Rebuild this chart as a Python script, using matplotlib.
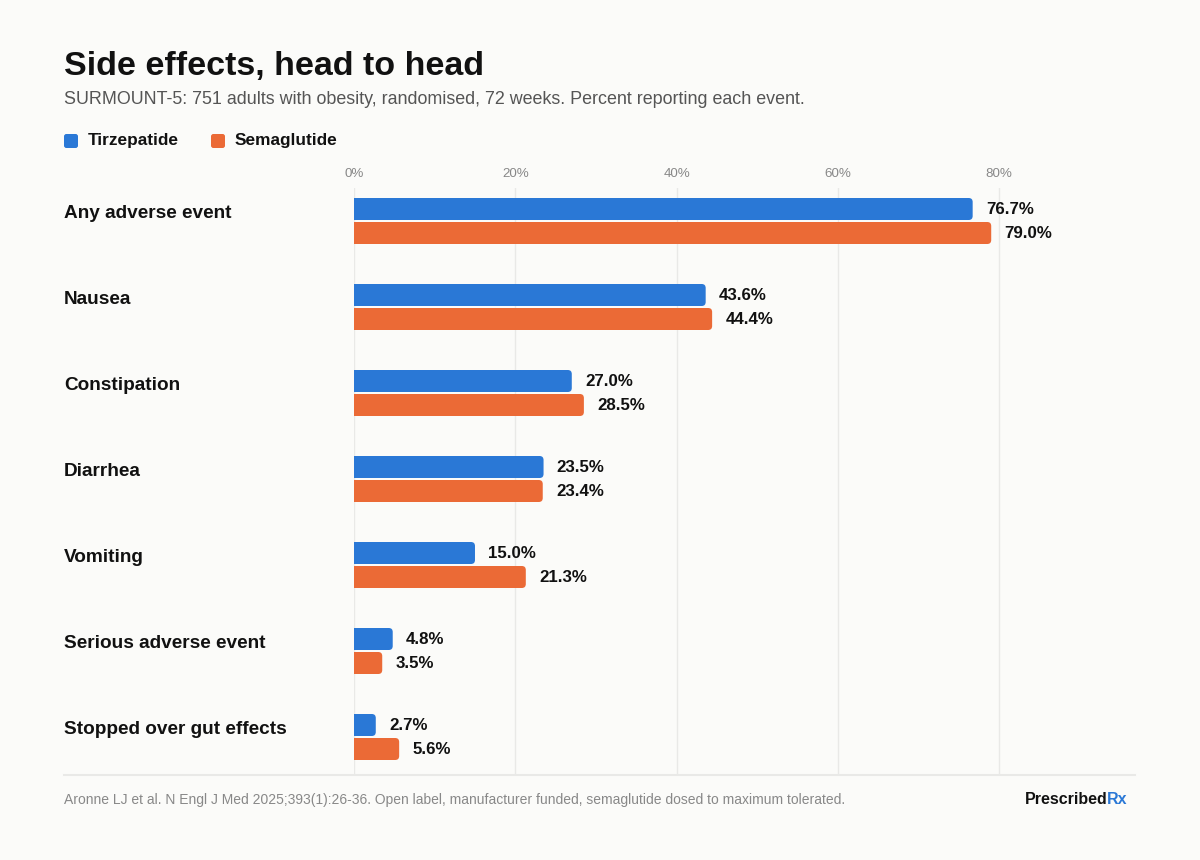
import matplotlib
matplotlib.use("Agg")
import matplotlib.pyplot as plt
from matplotlib.patches import FancyBboxPatch
from matplotlib.lines import Line2D
import matplotlib.transforms as mtransforms
import numpy as np

categories = ["Any adverse event", "Nausea", "Constipation", "Diarrhea",
              "Vomiting", "Serious adverse event", "Stopped over gut effects"]
tirzepatide = [76.7, 43.6, 27.0, 23.5, 15.0, 4.8, 2.7]
semaglutide = [79.0, 44.4, 28.5, 23.4, 21.3, 3.5, 5.6]
series_names = ["Tirzepatide", "Semaglutide"]
xticks = [0, 20, 40, 60, 80]
xtick_labels = ["0%", "20%", "40%", "60%", "80%"]

BLUE = "#2A78D6"
ORANGE = "#EB6A36"
BG = "#FBFBF9"
FONT = "Liberation Sans"

plt.rcParams["font.family"] = [FONT, "DejaVu Sans"]

W, H = 1200, 860
fig = plt.figure(figsize=(W / 100, H / 100), dpi=100, facecolor=BG)

def fx(px):
    return px / W

def fy(py):
    return 1 - py / H

ax_left, ax_right, ax_top, ax_bottom = 354, 1135, 188, 775
ax = fig.add_axes([fx(ax_left), fy(ax_bottom), fx(ax_right - ax_left), (ax_bottom - ax_top) / H])
ax.set_facecolor(BG)

px_per_unit_x = 8.066
group_px = 86.0
xmax = (ax_right - ax_left) / px_per_unit_x
ax.set_xlim(0, xmax)
ax.set_ylim((ax_bottom - 221) / group_px, (ax_top - 221) / group_px)

y = np.arange(len(categories))
bar_h = 22 / group_px
off = 12 / group_px

b1 = ax.barh(y - off, tirzepatide, height=bar_h, color=BLUE, zorder=3)
b2 = ax.barh(y + off, semaglutide, height=bar_h, color=ORANGE, zorder=3)

# rounded right ends
r_px = 4.0
r_x = r_px / px_per_unit_x
aspect = (1 / group_px) / (1 / px_per_unit_x)
for bars, col in ((b1, BLUE), (b2, ORANGE)):
    for rect in bars:
        x0, y0 = rect.get_x(), rect.get_y()
        w, h = rect.get_width(), rect.get_height()
        rect.set_width(max(w - r_x, 0))
        p = FancyBboxPatch((x0, y0), w, h,
                           boxstyle=f"round,pad=0,rounding_size={r_x}",
                           mutation_aspect=aspect, facecolor=col,
                           edgecolor="none", zorder=3)
        ax.add_patch(p)

# value labels
for bars, vals in ((b1, tirzepatide), (b2, semaglutide)):
    for rect, v in zip(bars, vals):
        ax.annotate(f"{v:.1f}%", (v, rect.get_y() + rect.get_height() / 2),
                    xytext=(9.5, 0), textcoords="offset points",
                    ha="left", va="center", fontsize=12.2, fontweight="bold",
                    color="#111111")

# grid & ticks
ax.set_xticks(xticks)
ax.set_xticklabels(xtick_labels)
ax.xaxis.tick_top()
ax.tick_params(axis="x", length=0, pad=6, labelsize=9.6, labelcolor="#888888")
ax.set_yticks([])
ax.grid(axis="x", color="#E9E9E7", linewidth=1.0, zorder=0)
ax.set_axisbelow(True)
for s in ax.spines.values():
    s.set_visible(False)

# category labels
trans = mtransforms.blended_transform_factory(fig.transFigure, ax.transData)
for i, c in enumerate(categories):
    ax.text(fx(64), i - 3 / group_px, c, transform=trans, ha="left", va="baseline",
            fontsize=13.7, fontweight="bold", color="#111111")

# title / subtitle
fig.text(fx(64), fy(75), "Side effects, head to head", ha="left", va="baseline",
         fontsize=24.5, fontweight="bold", color="#111111")
fig.text(fx(64), fy(104), "SURMOUNT-5: 751 adults with obesity, randomised, 72 weeks. Percent reporting each event.",
         ha="left", va="baseline", fontsize=12.9, color="#555555")

# legend
leg_items = [(64, 88, BLUE, series_names[0]), (211, 235, ORANGE, series_names[1])]
for sx, tx, col, name in leg_items:
    sq = FancyBboxPatch((fx(sx), fy(148)), fx(14), 14 / H,
                        boxstyle="round,pad=0,rounding_size=0.002",
                        mutation_aspect=W / H, transform=fig.transFigure,
                        facecolor=col, edgecolor="none")
    fig.patches.append(sq)
    fig.text(fx(tx), fy(141), name, ha="left", va="center", fontsize=12.4,
             fontweight="bold", color="#111111")

# footer
fig.lines.append(Line2D([fx(64), fx(1135)], [fy(775), fy(775)], transform=fig.transFigure,
                        color="#E9E9E7", linewidth=1.5))
fig.text(fx(64), fy(800), "Aronne LJ et al. N Engl J Med 2025;393(1):26-36. Open label, manufacturer funded, semaglutide dosed to maximum tolerated.",
         ha="left", va="center", fontsize=10, color="#888888")

renderer = fig.canvas.get_renderer()
tmp_full = fig.text(0, 0, "PrescribedRx", fontsize=11.5, fontweight="bold")
tmp_rx = fig.text(0, 0, "Rx", fontsize=11.5, fontweight="bold")
w_full = tmp_full.get_window_extent(renderer).width
w_rx = tmp_rx.get_window_extent(renderer).width
tmp_full.remove()
tmp_rx.remove()
right_px = 1127
fig.text(fx(right_px - w_full + 1), fy(804), "Prescribed", ha="left", va="baseline",
         fontsize=11.5, fontweight="bold", color="#111111")
fig.text(fx(right_px - w_rx), fy(804), "Rx", ha="left", va="baseline",
         fontsize=11.5, fontweight="bold", color=BLUE)

fig.savefig("out.png", dpi=100, facecolor=BG)
